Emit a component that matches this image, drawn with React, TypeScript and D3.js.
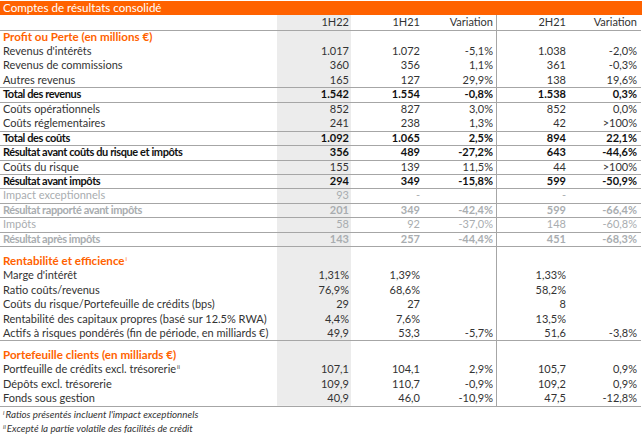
import React, { useEffect, useRef } from 'react';
import * as d3 from 'd3';

// table content
const title = 'Comptes de résultats consolidé';
const columns = ['1H22', '1H21', 'Variation', '2H21', 'Variation'];

const labels = [
  'Profit ou Perte (en millions €)',
  "Revenus d'intérêts",
  'Revenus de commissions',
  'Autres revenus',
  'Total des revenus',
  'Coûts opérationnels',
  'Coûts réglementaires',
  'Total des coûts',
  'Résultat avant coûts du risque et impôts',
  'Coûts du risque',
  'Résultat avant impôts',
  'Impact exceptionnels',
  'Résultat rapporté avant impôts',
  'Impôts',
  'Résultat après impôts',
  'Rentabilité et efficience',
  "Marge d'intérêt",
  'Ratio coûts/revenus',
  'Coûts du risque/Portefeuille de crédits (bps)',
  'Rentabilité des capitaux propres (basé sur 12.5% RWA)',
  'Actifs à risques pondérés (fin de période, en milliards €)',
  'Portefeuille clients (en milliards €)',
  'Portfeuille de crédits excl. trésorerie',
  'Dépôts excl. trésorerie',
  'Fonds sous gestion',
];

// section / row / total / muted / mutedBold
const kinds = [
  'section', 'row', 'row', 'row', 'total', 'row', 'row', 'total', 'total', 'row', 'total',
  'muted', 'mutedBold', 'muted', 'mutedBold',
  'section', 'row', 'row', 'row', 'row', 'row',
  'section', 'row', 'row', 'row',
];

const marks = ['', '', '', '', '', '', '', '', '', '', '', '', '', '', '', 'i', '', '', '', '', '', '', 'ii', '', ''];

const val1H22 = ['', '1.017', '360', '165', '1.542', '852', '241', '1.092', '356', '155', '294', '93', '201', '58', '143',
  '', '1,31%', '76,9%', '29', '4,4%', '49,9', '', '107,1', '109,9', '40,9'];
const val1H21 = ['', '1.072', '356', '127', '1.554', '827', '238', '1.065', '489', '139', '349', '-', '349', '92', '257',
  '', '1,39%', '68,6%', '27', '7,6%', '53,3', '', '104,1', '110,7', '46,0'];
const varH1 = ['', '-5,1%', '1,1%', '29,9%', '-0,8%', '3,0%', '1,3%', '2,5%', '-27,2%', '11,5%', '-15,8%', '', '-42,4%', '-37,0%', '-44,4%',
  '', '', '', '', '', '-5,7%', '', '2,9%', '-0,9%', '-10,9%'];
const val2H21 = ['', '1.038', '361', '138', '1.538', '852', '42', '894', '643', '44', '599', '-', '599', '148', '451',
  '', '1,33%', '58,2%', '8', '13,5%', '51,6', '', '105,7', '109,2', '47,5'];
const varH2 = ['', '-2,0%', '-0,3%', '19,6%', '0,3%', '0,0%', '>100%', '22,1%', '-44,6%', '>100%', '-50,9%', '', '-66,4%', '-60,8%', '-68,3%',
  '', '', '', '', '', '-3,8%', '', '0,9%', '0,9%', '-12,8%'];

const footnotes = [
  { mark: 'i', text: "Ratios présentés incluent l'impact exceptionnels" },
  { mark: 'ii', text: 'Excepté la partie volatile des facilités de crédit' },
];

const W = 642;
const H = 437;
const ORANGE = '#ff6200';
const FONT = 'Lato, "DejaVu Sans", sans-serif';

export default function App() {
  const ref = useRef<SVGSVGElement | null>(null);

  useEffect(() => {
    document.body.style.margin = '0';
    const svg = d3.select(ref.current);
    svg.selectAll('*').remove();

    const rowH = 14.45;
    const gap = 7.5;
    const top = 15;
    const headH = 14.5;

    // row tops, with a small gap in front of every section except the first
    const tops: number[] = [];
    let y = top + headH;
    labels.forEach((_, i) => {
      if (kinds[i] === 'section' && i > 0) y += gap;
      tops.push(y);
      y += rowH;
    });
    const bottom = y;

    const colX = d3.scaleOrdinal<number, number>()
      .domain([0, 1, 2, 3, 4])
      .range([349, 420, 493, 566, 637]);
    const colVals = [val1H22, val1H21, varH1, val2H21, varH2];

    // title bar
    svg.append('rect').attr('x', 0).attr('y', 1).attr('width', W).attr('height', top - 1).attr('fill', ORANGE);
    svg.append('text').attr('x', 3).attr('y', 12).attr('fill', '#fff')
      .style('font-size', '11.6px').text(title);

    // grey column for the current half year
    svg.append('rect').attr('x', 277).attr('y', top).attr('width', 74).attr('height', bottom - top).attr('fill', '#ececec');

    // separator lines
    const heavy = (k: string) => k === 'total' || k === 'muted' || k === 'mutedBold';
    const lineYs = [top + headH];
    labels.forEach((_, i) => {
      const next = kinds[i + 1];
      const lastOfSection = next === undefined || next === 'section';
      if (kinds[i] === 'section') return;
      if (heavy(kinds[i]) || (next && heavy(next)) || lastOfSection) lineYs.push(tops[i] + rowH);
    });
    svg.selectAll('line.h').data(lineYs).enter().append('line')
      .attr('x1', 0).attr('x2', W - 1)
      .attr('y1', d => Math.round(d) + 0.5).attr('y2', d => Math.round(d) + 0.5)
      .attr('stroke', '#a6a6a6').attr('stroke-width', 1);
    svg.append('line').attr('x1', 496.5).attr('x2', 496.5).attr('y1', top).attr('y2', Math.round(bottom) + 0.5)
      .attr('stroke', '#a6a6a6');

    // column headers
    svg.selectAll('text.head').data(columns).enter().append('text')
      .attr('x', (_, i) => colX(i)).attr('y', top + 11)
      .attr('text-anchor', 'end').attr('fill', '#333')
      .style('font-size', '11px').text(d => d);

    const color = (k: string) =>
      k === 'section' ? ORANGE : k === 'muted' || k === 'mutedBold' ? '#a9adb0' : k === 'total' ? '#111' : '#333';
    const weight = (k: string) => (k === 'row' || k === 'muted' ? 'normal' : 'bold');
    const labelSize = (k: string) => (k === 'section' ? '11.6px' : '11px');
    const spacing = (k: string) => (k === 'total' || k === 'mutedBold' ? '-0.4px' : '0px');

    // labels
    const lab = svg.selectAll('text.label').data(labels).enter().append('text')
      .attr('x', 3).attr('y', (_, i) => tops[i] + 11)
      .attr('fill', (_, i) => color(kinds[i]))
      .style('font-size', (_, i) => labelSize(kinds[i]))
      .style('letter-spacing', (_, i) => spacing(kinds[i]))
      .style('font-weight', (_, i) => weight(kinds[i]));
    lab.append('tspan').text(d => d);
    lab.filter((_, i) => marks[i] !== '').append('tspan')
      .attr('dy', -4).attr('dx', 1).style('font-size', '6px').style('font-weight', 'normal')
      .text(d => marks[labels.indexOf(d)]);

    // values
    colVals.forEach((vals, c) => {
      svg.selectAll(`text.c${c}`).data(vals).enter().append('text')
        .attr('x', colX(c)).attr('y', (_, i) => tops[i] + 11)
        .attr('text-anchor', 'end')
        .attr('fill', (_, i) => color(kinds[i]))
        .style('font-size', '11px')
        .style('font-weight', (_, i) => weight(kinds[i]))
        .text(d => d);
    });

    // footnotes
    const fn = svg.selectAll('text.note').data(footnotes).enter().append('text')
      .attr('x', 3).attr('y', (_, i) => bottom + 12 + i * 14)
      .attr('fill', '#333').style('font-size', '9.8px').style('font-style', 'italic');
    fn.append('tspan').attr('dy', -3).style('font-size', '6px').text(d => d.mark);
    fn.append('tspan').attr('dy', 3).attr('dx', 1).text(d => d.text);
  }, []);

  return <svg ref={ref} width={W} height={H} style={{ display: 'block', fontFamily: FONT }} />;
}
